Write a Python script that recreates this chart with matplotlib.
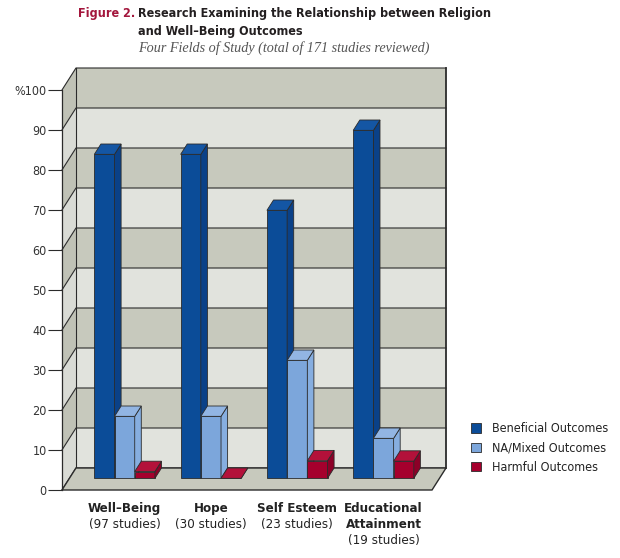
import matplotlib.pyplot as plt
from matplotlib.patches import Polygon, Patch

plt.rcParams['font.family'] = ['DejaVu Sans']
plt.rcParams['font.stretch'] = 'condensed'

categories = ['Well\u2013Being', 'Hope', 'Self Esteem', 'Educational\nAttainment']
studies = ['(97 studies)', '(30 studies)', '(23 studies)', '(19 studies)']
series = ['Beneficial Outcomes', 'NA/Mixed Outcomes', 'Harmful Outcomes']
beneficial = [81, 81, 67, 87]
mixed = [15.5, 15.5, 29.5, 10]
harmful = [1.7, 0, 4.4, 4.3]
yticks = [0, 10, 20, 30, 40, 50, 60, 70, 80, 90, 100]
yticklabels = ['0', '10', '20', '30', '40', '50', '60', '70', '80', '90', '%100']

# colours: front, side, top
colors = [('#0b4c98', '#0a4188', '#1456a4'),
          ('#7ca6db', '#86aee0', '#92b5e3'),
          ('#a5002d', '#8c0027', '#b3113a')]
band_dark, band_light = '#c7c9bd', '#e1e3dd'
side_dark, side_light = '#c0c2b6', '#d9dbd5'
line = '#2b2b2b'

# oblique projection: depth 0 = front of floor, 1 = back wall
def sx(d):
    return 0.1622 * d

def sy(d):
    return 5.5 * d

x_left, x_right = -0.64, 3.648
bar_w = 0.234
d_front = 0.53

fig = plt.figure(figsize=(6.2, 5.58), dpi=100)
ax = fig.add_axes([40 / 620, 58 / 558, 430 / 620, 440 / 558])
ax.set_xlim(-0.8946, 4.0881)
ax.set_ylim(-2.5, 107.5)

# back wall and left wall bands
for k in range(10):
    lo, hi = yticks[k], yticks[k + 1]
    c = band_light if k % 2 == 0 else band_dark
    ax.add_patch(Polygon([(x_left + sx(1), lo + sy(1)), (x_right + sx(1), lo + sy(1)),
                          (x_right + sx(1), hi + sy(1)), (x_left + sx(1), hi + sy(1))],
                         closed=True, facecolor=c, edgecolor='none', zorder=1))
    c2 = side_light if k % 2 == 0 else side_dark
    ax.add_patch(Polygon([(x_left, lo), (x_left + sx(1), lo + sy(1)),
                          (x_left + sx(1), hi + sy(1)), (x_left, hi)],
                         closed=True, facecolor=c2, edgecolor='none', zorder=1))

for v in yticks:
    ax.plot([x_left, x_left + sx(1), x_right + sx(1)], [v, v + sy(1), v + sy(1)],
            color=line, lw=0.8, zorder=2)

# walls outline
ax.plot([x_left + sx(1), x_left + sx(1)], [sy(1), 100 + sy(1)], color=line, lw=0.8, zorder=2)
ax.plot([x_right + sx(1), x_right + sx(1)], [sy(1), 100 + sy(1)], color=line, lw=1.3, zorder=2)

# floor
ax.add_patch(Polygon([(x_left, 0), (x_right, 0), (x_right + sx(1), sy(1)), (x_left + sx(1), sy(1))],
                     closed=True, facecolor=band_dark, edgecolor=line, lw=1.0, zorder=3))

# bars
groups = [beneficial, mixed, harmful]
for i in range(len(categories)):
    for j, vals in enumerate(groups):
        v = vals[i]
        xl = i - 1.5 * bar_w + j * bar_w
        front, side, top = colors[j]
        z = 4 + i * 3 + j
        x0 = xl + sx(d_front)
        x1 = x0 + bar_w
        b = sy(d_front)
        ax.bar(x0, v, width=bar_w, bottom=b, align='edge', color=front,
               edgecolor=line, lw=0.6, zorder=z)
        ddx = sx(1) - sx(d_front)
        ddy = sy(1) - sy(d_front)
        ax.add_patch(Polygon([(x1, b), (x1 + ddx, b + ddy), (x1 + ddx, b + ddy + v), (x1, b + v)],
                             closed=True, facecolor=side, edgecolor=line, lw=0.6, zorder=z))
        ax.add_patch(Polygon([(x0, b + v), (x1, b + v), (x1 + ddx, b + ddy + v), (x0 + ddx, b + ddy + v)],
                             closed=True, facecolor=top, edgecolor=line, lw=0.6, zorder=z))

# left axis
for s in ['top', 'right', 'bottom']:
    ax.spines[s].set_visible(False)
ax.spines['left'].set_position(('data', x_left))
ax.spines['left'].set_bounds(0, 100)
ax.spines['left'].set_color(line)
ax.spines['left'].set_linewidth(0.9)
ax.spines['left'].set_zorder(20)
ax.set_xticks([])
ax.set_yticks(yticks)
ax.set_yticklabels(yticklabels)
ax.tick_params(axis='y', length=10, width=0.8, color=line, labelsize=9,
               labelcolor='#333333', pad=1)
ax.patch.set_visible(False)

# category labels
for i, (name, n) in enumerate(zip(categories, studies)):
    xc = i + sx(d_front)
    ax.text(xc, -3.0, name, ha='center', va='top', fontsize=9.5, fontweight='bold',
            color='#222222', linespacing=1.25)
    nl = name.count('\n')
    ax.text(xc, -7.1 - 4.0 * nl, n, ha='center', va='top', fontsize=9.5, color='#222222')

# legend
handles = [Patch(facecolor=c[0], edgecolor=line, lw=0.6) for c in colors]
fig.legend(handles, series, loc='upper left', bbox_to_anchor=(0.760, 0.243),
           frameon=False, fontsize=9, handlelength=0.8, handleheight=0.8,
           handletextpad=0.9, labelspacing=0.5, borderpad=0, borderaxespad=0,
           labelcolor='#222222')

# title
fig.text(78 / 620, 1 - 13 / 558, 'Figure 2.', fontsize=9, fontweight='bold',
         color='#a3163c', va='center', ha='left')
fig.text(138 / 620, 1 - 13 / 558, 'Research Examining the Relationship between Religion',
         fontsize=9, fontweight='bold', color='#231f20', va='center', ha='left')
fig.text(138 / 620, 1 - 31 / 558, 'and Well\u2013Being Outcomes',
         fontsize=9, fontweight='bold', color='#231f20', va='center', ha='left')
fig.text(138 / 620, 1 - 48 / 558, 'Four Fields of Study (total of 171 studies reviewed)',
         fontsize=10.2, style='italic', family=['Liberation Serif', 'DejaVu Serif'],
         color='#555555', va='center', ha='left')

fig.savefig('out.png', dpi=100)
